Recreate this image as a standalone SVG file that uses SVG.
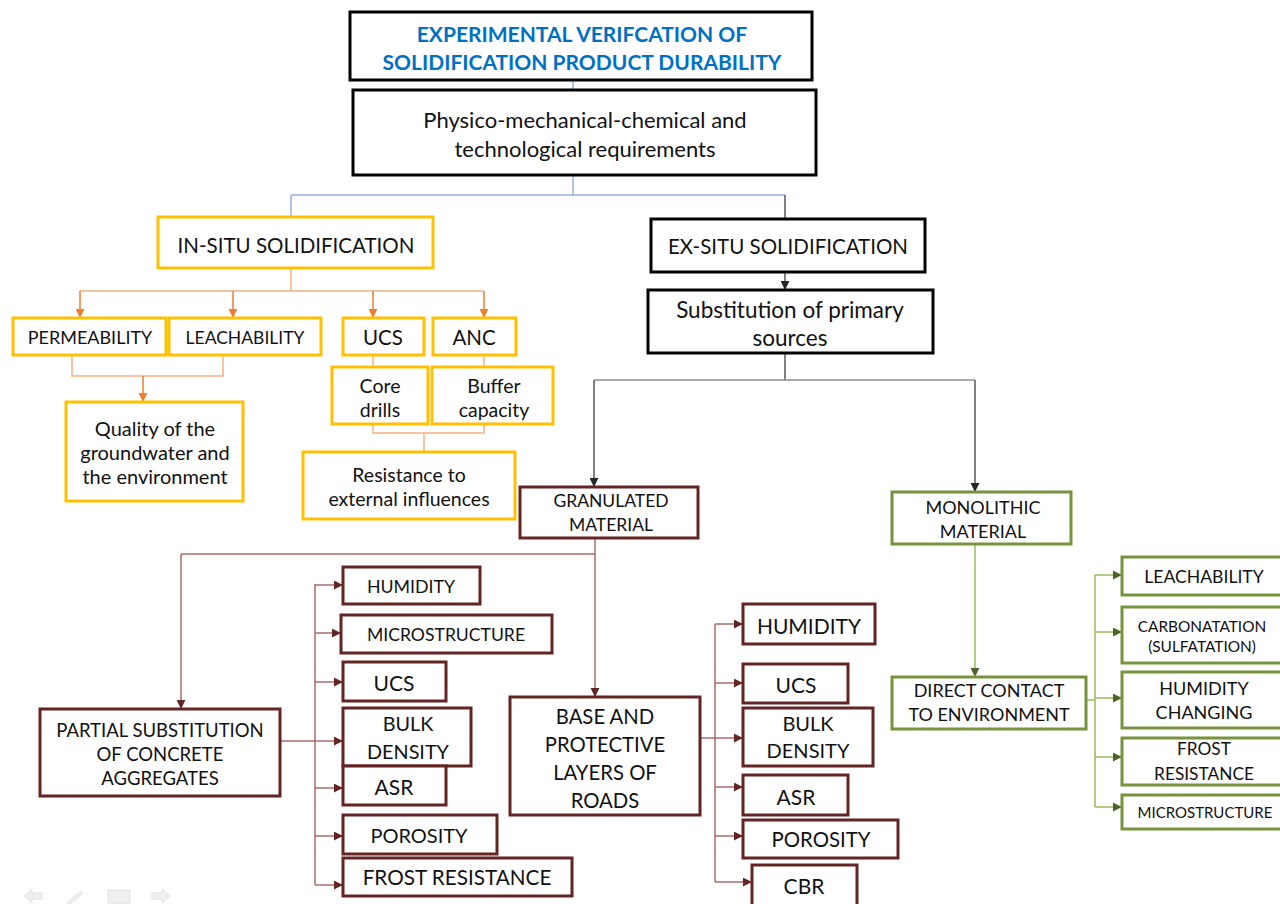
<svg xmlns="http://www.w3.org/2000/svg" width="1280" height="904" viewBox="0 0 1280 904">
<defs>
<style>
text{font-family:Lato,"Liberation Sans",sans-serif;fill:#111;text-anchor:middle;dominant-baseline:central;font-size:18px}
.ttl{font-size:21px;font-weight:bold;fill:#0070C0}
.bk{fill:#fff;stroke:#000;stroke-width:3}
.yl{fill:#fff;stroke:#FFC000;stroke-width:3}
.br{fill:#fff;stroke:#632523;stroke-width:3}
.gr{fill:#fff;stroke:#77933C;stroke-width:3}
.lb{fill:none;stroke:#95B3D7;stroke-width:1.5}
.lo{fill:none;stroke:#F4B183;stroke-width:1.5}
.lo2{fill:none;stroke:#ED7D31;stroke-width:1.5}
.lk{fill:none;stroke:#595959;stroke-width:1.5}
.lbr{fill:none;stroke:#A86E6C;stroke-width:1.5}
.lg{fill:none;stroke:#9BBB59;stroke-width:1.5}
.nav{fill:#efefef;stroke:#e2e2e2;stroke-width:1}
</style>
<marker id="ao" viewBox="0 0 10 10" refX="9" refY="5" markerWidth="9" markerHeight="9" markerUnits="userSpaceOnUse" orient="auto"><path d="M0,0L10,5L0,10z" fill="#ED7D31"/></marker>
<marker id="ak" viewBox="0 0 10 10" refX="9" refY="5" markerWidth="9" markerHeight="9" markerUnits="userSpaceOnUse" orient="auto"><path d="M0,0L10,5L0,10z" fill="#262626"/></marker>
<marker id="ab" viewBox="0 0 10 10" refX="9" refY="5" markerWidth="9" markerHeight="9" markerUnits="userSpaceOnUse" orient="auto"><path d="M0,0L10,5L0,10z" fill="#632523"/></marker>
<marker id="ag" viewBox="0 0 10 10" refX="9" refY="5" markerWidth="9" markerHeight="9" markerUnits="userSpaceOnUse" orient="auto"><path d="M0,0L10,5L0,10z" fill="#4F6228"/></marker>
</defs>
<rect width="1280" height="904" fill="#fff"/>

<g id="connectors">
<path class="lb" d="M573,80V90M573,175V195M291,195H785M291,195V217"/>
<path class="lk" d="M785,195V219"/>
<path class="lo" d="M291,268V291M80,291H484"/>
<path class="lo2" d="M80,291V317" marker-end="url(#ao)"/>
<path class="lo2" d="M233,291V317" marker-end="url(#ao)"/>
<path class="lo2" d="M373,291V317" marker-end="url(#ao)"/>
<path class="lo2" d="M484,291V317" marker-end="url(#ao)"/>
<path class="lo" d="M72,355V376H223V355"/>
<path class="lo2" d="M143,376V401" marker-end="url(#ao)"/>
<path class="lo" d="M373,355V367M484,355V367M373,424V433H484V424M424,433V452"/>
<path class="lk" d="M785,272V289" marker-end="url(#ak)"/>
<path class="lk" d="M785,353V380"/>
<path class="lk" style="stroke:#8c8c8c" d="M594,380H975"/>
<path class="lk" d="M594,380V486" marker-end="url(#ak)"/>
<path class="lk" d="M975,380V491" marker-end="url(#ak)"/>
<path class="lbr" d="M595,538V554H181"/>
<path class="lbr" d="M181,554V708" marker-end="url(#ab)"/>
<path class="lbr" d="M595,554V696" marker-end="url(#ab)"/>
<path class="lbr" d="M280,741H315M315,584V885"/>
<path class="lbr" d="M315,585H342" marker-end="url(#ab)"/>
<path class="lbr" d="M315,633H340" marker-end="url(#ab)"/>
<path class="lbr" d="M315,682H342" marker-end="url(#ab)"/>
<path class="lbr" d="M315,741H342" marker-end="url(#ab)"/>
<path class="lbr" d="M315,788H342" marker-end="url(#ab)"/>
<path class="lbr" d="M315,836H342" marker-end="url(#ab)"/>
<path class="lbr" d="M315,885H342" marker-end="url(#ab)"/>
<path class="lbr" d="M700,738H715M715,624V882"/>
<path class="lbr" d="M715,624H742" marker-end="url(#ab)"/>
<path class="lbr" d="M715,683H742" marker-end="url(#ab)"/>
<path class="lbr" d="M715,738H742" marker-end="url(#ab)"/>
<path class="lbr" d="M715,787H742" marker-end="url(#ab)"/>
<path class="lbr" d="M715,836H742" marker-end="url(#ab)"/>
<path class="lbr" d="M715,882H751" marker-end="url(#ab)"/>
<path class="lg" d="M975,544V676" marker-end="url(#ag)"/>
<path class="lg" d="M1086,700H1095M1095,575V807"/>
<path class="lg" d="M1095,575H1121" marker-end="url(#ag)"/>
<path class="lg" d="M1095,632H1121" marker-end="url(#ag)"/>
<path class="lg" d="M1095,698H1121" marker-end="url(#ag)"/>
<path class="lg" d="M1095,757H1121" marker-end="url(#ag)"/>
<path class="lg" d="M1095,807H1121" marker-end="url(#ag)"/>
</g>

<g id="title"><rect class="bk" x="350" y="12" width="462" height="68"/><text class="ttl" x="582" y="33">EXPERIMENTAL VERIFCATION OF</text><text class="ttl" x="582" y="61">SOLIDIFICATION PRODUCT DURABILITY</text></g>
<g id="requirements"><rect class="bk" x="353" y="90" width="463" height="85"/><text x="585" y="119" style="font-size:22px">Physico-mechanical-chemical and</text><text x="585" y="148" style="font-size:22px">technological requirements</text></g>

<g id="insitu"><rect class="yl" x="158" y="217" width="275" height="51"/><text x="296" y="245" style="font-size:20.5px">IN-SITU SOLIDIFICATION</text></g>
<g id="permeability"><rect class="yl" x="13" y="318" width="153" height="37"/><text x="90" y="337">PERMEABILITY</text></g>
<g id="leachability1"><rect class="yl" x="169" y="318" width="152" height="37"/><text x="245" y="337" style="font-size:17.5px">LEACHABILITY</text></g>
<g id="ucs1"><rect class="yl" x="343" y="318" width="81" height="37"/><text x="383" y="337" style="font-size:20.5px">UCS</text></g>
<g id="anc"><rect class="yl" x="433" y="318" width="83" height="37"/><text x="474" y="337" style="font-size:20.5px">ANC</text></g>
<g id="quality"><rect class="yl" x="66" y="402" width="177" height="99"/><text x="155" y="428" style="font-size:20px">Quality of the</text><text x="155" y="452" style="font-size:20px">groundwater and</text><text x="155" y="476" style="font-size:20px">the environment</text></g>
<g id="coredrills"><rect class="yl" x="332" y="367" width="96" height="57"/><text x="380" y="385" style="font-size:19.5px">Core</text><text x="380" y="409" style="font-size:19.5px">drills</text></g>
<g id="buffer"><rect class="yl" x="432" y="367" width="121" height="57"/><text x="494" y="385" style="font-size:19.5px">Buffer</text><text x="494" y="409" style="font-size:19.5px">capacity</text></g>
<g id="resistance"><rect class="yl" x="303" y="452" width="212" height="67"/><text x="409" y="474" style="font-size:19.5px">Resistance to</text><text x="409" y="498" style="font-size:19.5px">external influences</text></g>

<g id="exsitu"><rect class="bk" x="651" y="219" width="274" height="53"/><text x="788" y="246" style="font-size:20.5px">EX-SITU SOLIDIFICATION</text></g>
<g id="substitution"><rect class="bk" x="648" y="290" width="285" height="63"/><text x="790" y="309" style="font-size:22.5px">Substitution of primary</text><text x="790" y="337" style="font-size:22.5px">sources</text></g>

<g id="granulated"><rect class="br" x="520" y="487" width="178" height="51"/><text x="611" y="500" style="font-size:17.5px">GRANULATED</text><text x="611" y="524" style="font-size:17.5px">MATERIAL</text></g>
<g id="monolithic"><rect class="gr" x="892" y="492" width="179" height="52"/><text x="983" y="507">MONOLITHIC</text><text x="983" y="531">MATERIAL</text></g>

<g id="partial"><rect class="br" x="40" y="709" width="240" height="87"/><text x="160" y="730" style="font-size:18.5px">PARTIAL SUBSTITUTION</text><text x="160" y="754" style="font-size:18.5px">OF CONCRETE</text><text x="160" y="778" style="font-size:18.5px">AGGREGATES</text></g>
<g id="p-humidity"><rect class="br" x="343" y="567" width="137" height="37"/><text x="411" y="586" style="font-size:17.8px">HUMIDITY</text></g>
<g id="p-micro"><rect class="br" x="341" y="615" width="211" height="38"/><text x="446" y="634" style="font-size:17.6px">MICROSTRUCTURE</text></g>
<g id="p-ucs"><rect class="br" x="343" y="662" width="103" height="39"/><text x="394" y="682" style="font-size:21px">UCS</text></g>
<g id="p-bulk"><rect class="br" x="343" y="708" width="128" height="58"/><text x="408" y="723" style="font-size:19.8px">BULK</text><text x="408" y="751" style="font-size:19.8px">DENSITY</text></g>
<g id="p-asr"><rect class="br" x="343" y="766" width="103" height="39"/><text x="394" y="786" style="font-size:21px">ASR</text></g>
<g id="p-porosity"><rect class="br" x="343" y="815" width="154" height="39"/><text x="419" y="835" style="font-size:20px">POROSITY</text></g>
<g id="p-frost"><rect class="br" x="343" y="858" width="229" height="38"/><text x="457" y="877" style="font-size:20.7px">FROST RESISTANCE</text></g>

<g id="base"><rect class="br" x="510" y="697" width="190" height="118"/><text x="605" y="716" style="font-size:20.3px">BASE AND</text><text x="605" y="744" style="font-size:20.3px">PROTECTIVE</text><text x="605" y="772" style="font-size:20.3px">LAYERS OF</text><text x="605" y="800" style="font-size:20.3px">ROADS</text></g>
<g id="b-humidity"><rect class="br" x="743" y="604" width="132" height="40"/><text x="809" y="625" style="font-size:21px">HUMIDITY</text></g>
<g id="b-ucs"><rect class="br" x="743" y="664" width="105" height="39"/><text x="796" y="684" style="font-size:21px">UCS</text></g>
<g id="b-bulk"><rect class="br" x="743" y="708" width="130" height="58"/><text x="808" y="723" style="font-size:20px">BULK</text><text x="808" y="750" style="font-size:20px">DENSITY</text></g>
<g id="b-asr"><rect class="br" x="743" y="775" width="105" height="40"/><text x="796" y="796" style="font-size:21px">ASR</text></g>
<g id="b-porosity"><rect class="br" x="743" y="820" width="155" height="38"/><text x="821" y="839" style="font-size:20.4px">POROSITY</text></g>
<g id="b-cbr"><rect class="br" x="752" y="865" width="105" height="42"/><text x="804" y="885" style="font-size:21px">CBR</text></g>

<g id="direct"><rect class="gr" x="892" y="677" width="194" height="52"/><text x="989" y="690">DIRECT CONTACT</text><text x="989" y="714">TO ENVIRONMENT</text></g>
<g id="m-leach"><rect class="gr" x="1122" y="557" width="164" height="38"/><text x="1204" y="576" style="font-size:17.6px">LEACHABILITY</text></g>
<g id="m-carb"><rect class="gr" x="1122" y="607" width="164" height="56"/><text x="1202" y="626" style="font-size:15.4px">CARBONATATION</text><text x="1202" y="646" style="font-size:15.4px">(SULFATATION)</text></g>
<g id="m-humid"><rect class="gr" x="1122" y="672" width="164" height="56"/><text x="1204" y="688">HUMIDITY</text><text x="1204" y="712">CHANGING</text></g>
<g id="m-frost"><rect class="gr" x="1122" y="738" width="164" height="47"/><text x="1204" y="748" style="font-size:17.3px">FROST</text><text x="1204" y="773" style="font-size:17.3px">RESISTANCE</text></g>
<g id="m-micro"><rect class="gr" x="1122" y="795" width="164" height="34"/><text x="1205" y="812" style="font-size:15px">MICROSTRUCTURE</text></g>

<g id="nav-icons">
<path class="nav" d="M24,896L32,889V893H42V899H32V903z"/>
<path class="nav" d="M67,903L81,891L83,893L70,904z"/>
<rect class="nav" x="108" y="890" width="22" height="14"/>
<path class="nav" d="M170,896L162,889V893H152V899H162V903z"/>
</g>
</svg>
